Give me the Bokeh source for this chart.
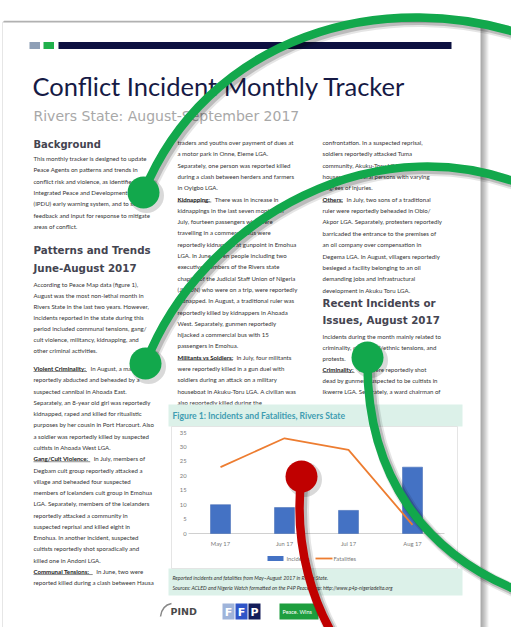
from bokeh.plotting import figure
from bokeh.models import Range1d
from bokeh.embed import file_html
from bokeh.resources import INLINE
from bokeh.core.properties import value

# ---------------- chart data ----------------
months = ["May 17", "Jun 17", "Jul 17", "Aug 17"]
incidents = [10, 9, 8, 23]
fatalities = [23, 33, 29, 3]
y_ticks = [0, 5, 10, 15, 20, 25, 30, 35]
chart_title = "Figure 1: Incidents and Fatalities, Rivers State"
series_names = ["Incidents", "Fatalities"]

# ---------------- document text ----------------
doc_title = "Conflict Incident Monthly Tracker"
doc_subtitle = "Rivers State: August-September 2017"

col1_bg = [
    "This monthly tracker is designed to update",
    "Peace Agents on patterns and trends in",
    "conflict risk and violence, as identified by the",
    "Integrated Peace and Development Unit",
    "(IPDU) early warning system, and to seek",
    "feedback and input for response to mitigate",
    "areas of conflict.",
]
col1_pt = [
    "According to Peace Map data (figure 1),",
    "August was the most non-lethal month in",
    "Rivers State in the last two years. However,",
    "incidents reported in the state during this",
    "period included communal tensions, gang/",
    "cult violence, militancy, kidnapping, and",
    "other criminal activities.",
]
col1_b = [
    ("Violent Criminality:", "In August, a man was"),
    ("", "reportedly abducted and beheaded by a"),
    ("", "suspected cannibal in Ahoada East."),
    ("", "Separately, an 8-year old girl was reportedly"),
    ("", "kidnapped, raped and killed for ritualistic"),
    ("", "purposes by her cousin in Port Harcourt. Also"),
    ("", "a soldier was reportedly killed by suspected"),
    ("", "cultists in Ahoada West LGA."),
    ("Gang/Cult Violence:", "In July, members of"),
    ("", "Degbam cult group reportedly attacked a"),
    ("", "village and beheaded four suspected"),
    ("", "members of Icelanders cult group in Emohua"),
    ("", "LGA. Separately, members of the Icelanders"),
    ("", "reportedly attacked a community in"),
    ("", "suspected reprisal and killed eight in"),
    ("", "Emohua. In another incident, suspected"),
    ("", "cultists reportedly shot sporadically and"),
    ("", "killed one in Andoni LGA."),
    ("Communal Tensions:", "In June, two were"),
    ("", "reported killed during a clash between Hausa"),
]
col2 = [
    ("", "traders and youths over payment of dues at"),
    ("", "a motor park in Onne, Eleme LGA."),
    ("", "Separately, one person was reported killed"),
    ("", "during a clash between herders and farmers"),
    ("", "in Oyigbo LGA."),
    ("Kidnapping:", "There was in increase in"),
    ("", "kidnappings in the last seven months. In"),
    ("", "July, fourteen passengers who were"),
    ("", "travelling in a commercial bus were"),
    ("", "reportedly kidnapped at gunpoint in Emohua"),
    ("", "LGA. In June, seven people including two"),
    ("", "executive members of the Rivers state"),
    ("", "chapter of the Judicial Staff Union of Nigeria"),
    ("", "(JUSUN) who were on a trip, were reportedly"),
    ("", "kidnapped. In August, a traditional ruler was"),
    ("", "reportedly killed by kidnappers in Ahoada"),
    ("", "West. Separately, gunmen reportedly"),
    ("", "hijacked a commercial bus with 15"),
    ("", "passengers in Emohua."),
    ("Militants vs Soldiers:", "In July, four militants"),
    ("", "were reportedly killed in a gun duel with"),
    ("", "soldiers during an attack on a military"),
    ("", "houseboat in Akuku-Toru LGA. A civilian was"),
    ("", "also reportedly killed during the"),
]
col3 = [
    ("", "confrontation. In a suspected reprisal,"),
    ("", "soldiers reportedly attacked Tuma"),
    ("", "community, Akuku-Toru LGA, and burnt"),
    ("", "houses and several persons with varying"),
    ("", "degrees of injuries."),
    ("Others:", "In July, two sons of a traditional"),
    ("", "ruler were reportedly beheaded in Obio/"),
    ("", "Akpor LGA. Separately, protesters reportedly"),
    ("", "barricaded the entrance to the premises of"),
    ("", "an oil company over compensation in"),
    ("", "Degema LGA. In August, villagers reportedly"),
    ("", "besieged a facility belonging to an oil"),
    ("", "demanding jobs and infrastructural"),
    ("", "development in Akuku Toru LGA."),
]
col3_b = [
    ("", "Incidents during the month mainly related to"),
    ("", "criminality, communal/ethnic tensions, and"),
    ("", "protests."),
    ("Criminality:", "Two were reportedly shot"),
    ("", "dead by gunmen suspected to be cultists in"),
    ("", "Ikwerre LGA. Separately, a ward chairman of"),
]
caption = [
    "Reported incidents and fatalities from May\u2013August 2017 in Rivers State.",
    "Sources: ACLED and Nigeria Watch formatted on the P4P Peace Map: http://www.p4p-nigeriadelta.org",
]

# ---------------- figure (1 unit = 1 screen pixel) ----------------
M = 0
W, H = 511, 627
p = figure(width=W, height=H, x_range=Range1d(M, M + W), y_range=Range1d(M + H, M),
           output_backend="svg", toolbar_location=None, min_border=0,
           x_axis_type=None, y_axis_type=None, background_fill_color="white",
           border_fill_color="white")
p.grid.visible = False
p.outline_line_color = None

BODY = value("Lato")
HEAD = value("DejaVu Sans")
FSN = 6.1
FS = f"{FSN}px"
TXT = "#353535"

# rough bold-width estimate (em units) for placing the rest of a line after a bold label
_EM = {}
for ch in "ijlI": _EM[ch] = 0.24
for ch in "tf": _EM[ch] = 0.33
for ch in "r/": _EM[ch] = 0.36
for ch in " :.,": _EM[ch] = 0.22
for ch in "sz": _EM[ch] = 0.43
for ch in "ceakxvy": _EM[ch] = 0.51
for ch in "m": _EM[ch] = 0.84
for ch in "w": _EM[ch] = 0.77
for ch in "OG": _EM[ch] = 0.76
for ch in "S": _EM[ch] = 0.53

def bold_width(s):
    lower = sum(_EM.get(ch, 0.56 if ch.islower() else 0.66) for ch in s)
    return lower * FSN * 1.06

# page with shadow
for i in range(9):
    p.quad(left=[2 + i * 0.2], right=[481 + i * 0.9], top=[21 - i * 0.15], bottom=[700],
           fill_color="black", fill_alpha=0.045, line_color=None)
p.quad(left=[2], right=[480], top=[22], bottom=[700], fill_color="white", line_color="#d8d8d8",
       line_width=0.6)

# header bar
p.quad(left=[29], right=[39.5], top=[41.5], bottom=[48.5], fill_color="#8e9fb6", line_color=None)
p.quad(left=[43], right=[53.5], top=[41.5], bottom=[48.5], fill_color="#20b04b", line_color=None)
p.quad(left=[58], right=[451], top=[41.5], bottom=[48.5], fill_color="#0c1040", line_color=None)

p.text(x=[32], y=[85], text=[doc_title], text_font=BODY, text_font_size="25.5px",
       text_color="#161a45", text_baseline="alphabetic")
p.text(x=[33], y=[115], text=[doc_subtitle], text_font=value("DejaVu Sans"), text_font_size="14px",
       text_color="#a8a8a8", text_baseline="alphabetic")

def heading(x, y, s, size):
    p.text(x=[x], y=[y], text=[s], text_font=HEAD, text_font_size=size, text_font_style="bold",
           text_color="#444450", text_baseline="middle")

def lines(x, y0, step, items):
    for k, it in enumerate(items):
        if isinstance(it, str):
            pre, rest = "", it
        else:
            pre, rest = it
        y = y0 + k * step
        xr = x
        if pre:
            p.text(x=[x], y=[y], text=[pre], text_font=BODY, text_font_size=FS,
                   text_font_style="bold", text_color="#222", text_baseline="middle")
            w = bold_width(pre)
            p.segment(x0=[x], y0=[y + 3], x1=[x + w], y1=[y + 3], line_color="#222", line_width=0.5)
            xr = x + w + 3.5
        p.text(x=[xr], y=[y], text=[rest], text_font=BODY, text_font_size=FS, text_color=TXT,
               text_baseline="middle")

heading(33, 144, "Background", "10px")
lines(33, 158, 11.3, col1_bg)
heading(33, 249, "Patterns and Trends", "10.3px")
heading(33, 267, "June-August 2017", "10.3px")
lines(33, 284, 11.0, col1_pt)
lines(33, 368, 11.28, col1_b)
lines(177, 142, 11.3, col2)
lines(322, 142, 11.35, col3)
heading(322, 302, "Recent Incidents or", "10.3px")
heading(322, 319, "Issues, August 2017", "10.3px")
lines(322, 336, 11.0, col3_b)

# chart frame
p.quad(left=[168], right=[462], top=[404], bottom=[426], fill_color="#dcf1e9", line_color=None)
p.quad(left=[168], right=[462], top=[568], bottom=[595], fill_color="#dcf1e9", line_color=None)
p.quad(left=[171], right=[457], top=[426], bottom=[568], fill_color="white", line_color="#dedede",
       line_width=0.8)
p.text(x=[172], y=[415.5], text=[chart_title], text_font=BODY, text_font_size="8.6px",
       text_font_style="bold", text_color="#3f9db2", text_baseline="middle")
p.text(x=[172, 172], y=[577, 587], text=caption, text_font=BODY, text_font_size="5.2px",
       text_font_style="italic", text_color="#333", text_baseline="middle")

# chart ranges mapped onto the inset region
CX0, CDX = 220.0, 64.0          # pixel of first category, px per category
CY0, CDY = 533.0, 101.0 / 35.0  # pixel of value 0, px per unit
p.extra_x_ranges = {"cx": Range1d((M - CX0) / CDX, (M + W - CX0) / CDX)}
p.extra_y_ranges = {"cy": Range1d((CY0 - (M + H)) / CDY, (CY0 - M) / CDY)}
idx = list(range(len(months)))
kw = dict(x_range_name="cx", y_range_name="cy")

p.segment(x0=[-0.5], y0=[0], x1=[len(months) - 0.5], y1=[0], line_color="#d0d0d0", line_width=1, **kw)
p.vbar(x=idx, top=incidents, bottom=0, width=20 / CDX, fill_color="#4472c4",
       line_color="#3a64b0", line_width=0.5, **kw)
p.line(x=idx, y=fatalities, line_color="#ed7d31", line_width=1.8, **kw)
p.text(x=[-0.53] * len(y_ticks), y=y_ticks, text=[str(t) for t in y_ticks], text_font=BODY,
       text_font_size="5.8px", text_color="#7a7a7a", text_align="right", text_baseline="middle", **kw)
p.text(x=idx, y=[-3.5] * len(months), text=months, text_font=BODY, text_font_size="5.8px",
       text_color="#7a7a7a", text_align="center", text_baseline="middle", **kw)

# legend
p.quad(left=[267], right=[283], top=[555.5], bottom=[560.5], fill_color="#4472c4", line_color=None)
p.text(x=[286], y=[558], text=[series_names[0]], text_font=BODY, text_font_size="5.8px",
       text_color="#7a7a7a", text_baseline="middle")
p.segment(x0=[315], y0=[558], x1=[332], y1=[558], line_color="#ed7d31", line_width=1.8)
p.text(x=[333], y=[558], text=[series_names[1]], text_font=BODY, text_font_size="5.8px",
       text_color="#7a7a7a", text_baseline="middle")

# logos
p.text(x=[170], y=[611], text=["PIND"], text_font=value("DejaVu Sans"), text_font_size="9.5px",
       text_font_style="bold", text_color="#4a4a4a", text_baseline="middle")
p.bezier(x0=[160], y0=[616], x1=[171], y1=[603], cx0=[161], cy0=[608], cx1=[166], cy1=[604],
         line_color="#888", line_width=1.5)
p.quad(left=[222], right=[234], top=[603], bottom=[619], fill_color="#9fb4da", line_color=None)
p.quad(left=[235], right=[247], top=[603], bottom=[619], fill_color="#2f55c8", line_color=None)
p.quad(left=[248], right=[260], top=[603], bottom=[619], fill_color="#141d5a", line_color=None)
p.text(x=[228, 241, 254], y=[611.5] * 3, text=["F", "F", "P"], text_font=value("DejaVu Sans"),
       text_font_size="11px", text_font_style="bold", text_color="white", text_align="center",
       text_baseline="middle")
p.quad(left=[279], right=[318], top=[603], bottom=[619], fill_color="#1e9e3e", line_color=None)
p.text(x=[282], y=[611], text=["Peace. Wins"], text_font=BODY, text_font_size="5.5px",
       text_color="white", text_baseline="middle")

# overlay curves
curves = [
    # x0, y0, cx0, cy0, cx1, cy1, x1, y1, colour
    (143, 192, 205, 40, 380, -20, 540, 40, "#12a84c"),
    (145, 363, 200, 220, 380, 115, 540, 192, "#12a84c"),
    (367, 357, 365, 470, 420, 560, 540, 598, "#12a84c"),
    (301, 476, 293, 540, 310, 610, 350, 660, "#c00000"),
]
for (x0, y0, cx0, cy0, cx1, cy1, x1, y1, c) in curves:
    for off, lw, a in [(3.0, 13, 0.10), (2.5, 10, 0.18)]:
        p.bezier(x0=[x0 + off], y0=[y0 + off], x1=[x1 + off], y1=[y1 + off], cx0=[cx0 + off],
                 cy0=[cy0 + off], cx1=[cx1 + off], cy1=[cy1 + off], line_color="black",
                 line_alpha=a, line_width=lw)
    p.circle(x=[x0 + 3], y=[y0 + 3], radius=17.5, fill_color="black", fill_alpha=0.15, line_color=None)
for (x0, y0, cx0, cy0, cx1, cy1, x1, y1, c) in curves:
    p.bezier(x0=[x0], y0=[y0], x1=[x1], y1=[y1], cx0=[cx0], cy0=[cy0], cx1=[cx1], cy1=[cy1],
             line_color=c, line_width=8.5)
    p.circle(x=[x0], y=[y0], radius=16, fill_color=c, line_color=None)

open("out.html", "w").write(file_html(p, INLINE))
